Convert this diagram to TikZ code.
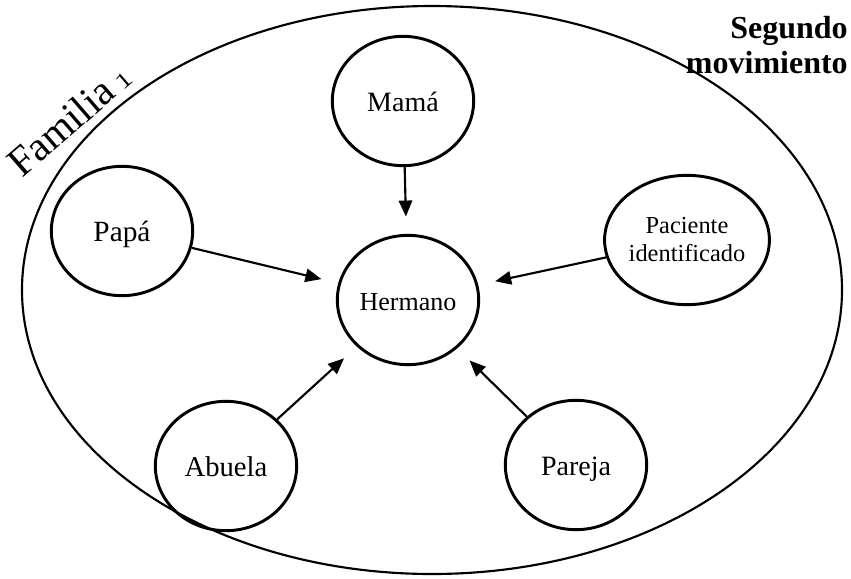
\documentclass[tikz,border=0pt]{standalone}
\usepackage{fontspec}
\setmainfont{Liberation Serif}
\usetikzlibrary{arrows.meta,shapes.geometric}
% old-style figure one from the math italic font
\newcommand{\osone}{{\usefont{OML}{cmm}{m}{it}\fontsize{36}{36}\selectfont 1}}
\begin{document}
\begin{tikzpicture}[x=0.75pt,y=-0.75pt,
  member/.style={draw,line width=2.2pt,ellipse,minimum width=106pt,minimum height=97pt,inner sep=0pt,align=center},
  oneline/.style={text height=15pt,text depth=0pt},
  link/.style={line width=1.6pt,-{Triangle[length=12pt,width=10pt]},shorten >=13pt}]
\useasboundingbox (0,0) rectangle (851,579);
% outer family boundary
\draw[line width=1.6pt] (432,290) ellipse [x radius=410, y radius=284];
\node[rotate=41,anchor=base west,inner sep=0pt,font=\fontsize{31}{35}\selectfont] (fam) at (22,179) {Familia\,\osone};
\node[anchor=north east,align=right,inner sep=0pt,font=\fontsize{24}{26}\bfseries\selectfont] (mov) at (848,16) {Segundo\\movimiento};
% family members
\node[member,oneline,font=\fontsize{21}{24}\selectfont] (mama) at (403,101) {Mamá};
\node[member,oneline,font=\fontsize{19.5}{23}\selectfont] (hermano) at (408,300) {Hermano};
\node[member,oneline,font=\fontsize{22}{25}\selectfont] (papa) at (122,231) {Papá};
\node[member,font=\fontsize{18.3}{21}\selectfont] (paciente) at (687,240) {Paciente\\identificado};
\node[member,oneline,font=\fontsize{21.5}{24}\selectfont] (abuela) at (226,466) {Abuela};
\node[member,oneline,font=\fontsize{21}{24}\selectfont] (pareja) at (576,465) {Pareja};
% influences on the sibling
\draw[link] (mama) -- (hermano);
\draw[link] (papa) -- (hermano);
\draw[link] (paciente) -- (hermano);
\draw[link] (abuela) -- (hermano);
\draw[link] (pareja) -- (hermano);
\end{tikzpicture}
\end{document}
